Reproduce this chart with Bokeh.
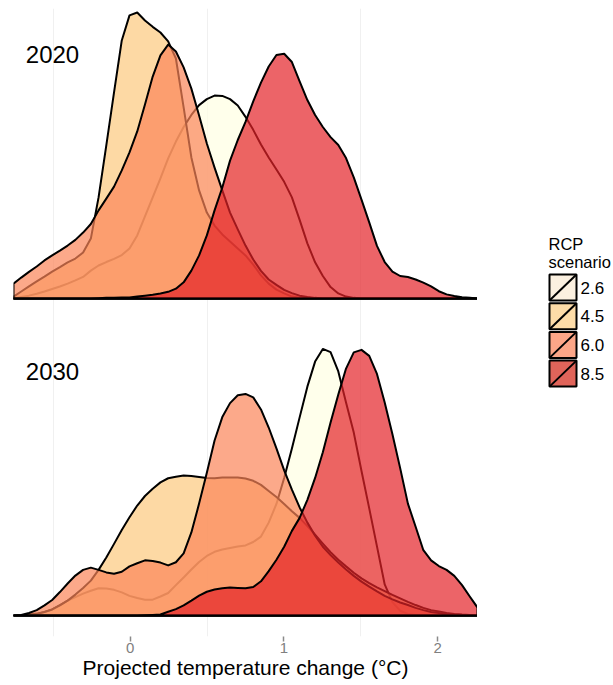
import numpy as np
from bokeh.plotting import figure
from bokeh.layouts import row
from bokeh.models import Range1d, FixedTicker
from bokeh.embed import file_html
from bokeh.resources import INLINE
from bokeh.core.properties import value

# ---------------- data ----------------
scenarios = ["2.6", "4.5", "6.0", "8.5"]
years = ["2020", "2030"]
tick_values = [0, 1, 2]
minor_values = [-0.5, 0.5, 1.5]

# evaluation grid of temperature change (°C)
t_min, t_max, n_pts = -0.76, 2.26, 61
temp = np.linspace(t_min, t_max, n_pts)

# ridge heights (percent of the spacing between the two ridges)
d2020_rcp26 = [0.0, 0.5, 0.9, 1.5, 2.2, 3.0, 3.8, 4.7, 5.7, 6.8,
               8.8, 10.4, 11.5, 12.5, 13.7, 15.8, 19.9, 25.9, 31.9, 37.9,
               44.2, 49.5, 54.1, 57.9, 61.0, 62.9, 64.0, 63.9, 62.9, 60.9,
               57.3, 53.2, 48.6, 44.5, 40.7, 36.8, 31.9, 24.8, 17.4, 11.4,
               7.1, 3.6, 1.6, 0.6, 0.2, 0, 0, 0, 0, 0,
               0, 0, 0, 0, 0, 0, 0, 0, 0, 0, 0]
d2020_rcp45 = [0.6, 2.2, 3.8, 5.4, 6.9, 8.5, 9.9, 11.4, 12.6, 14.5,
               18.9, 31.9, 48.3, 65.0, 81.4, 89.3, 90.2, 87.7, 85.7, 83.9,
               81.1, 75.7, 60.3, 44.5, 34.1, 27.1, 23.0, 20.2, 18.0, 15.8,
               13.6, 10.7, 7.3, 4.7, 2.8, 1.6, 0.6, 0.3, 0.2, 0.1,
               0, 0, 0, 0, 0, 0, 0, 0, 0, 0,
               0, 0, 0, 0, 0, 0, 0, 0, 0, 0, 0]
d2020_rcp60 = [4.7, 6.6, 8.4, 10.1, 12.0, 13.6, 15.1, 16.7, 18.5, 20.8,
               23.5, 27.8, 31.5, 35.3, 40.4, 46.1, 52.7, 61.2, 70.0, 76.7,
               80.1, 77.9, 72.9, 66.2, 57.7, 48.9, 41.3, 34.1, 27.1, 21.8,
               16.7, 12.3, 8.7, 6.0, 4.3, 2.7, 1.7, 0.9, 0.5, 0.2,
               0, 0, 0, 0, 0, 0, 0, 0, 0, 0,
               0, 0, 0, 0, 0, 0, 0, 0, 0, 0, 0]
d2020_rcp85 = [0, 0, 0, 0, 0, 0, 0, 0, 0, 0,
               0, 0.1, 0.2, 0.2, 0.3, 0.3, 0.6, 0.9, 1.2, 1.6,
               2.1, 3.1, 5.1, 8.8, 13.6, 19.9, 27.8, 35.0, 43.5, 50.0,
               55.7, 62.2, 68.1, 73.2, 76.8, 77.2, 74.6, 68.5, 62.6, 57.9,
               54.1, 50.9, 48.4, 44.3, 38.2, 31.2, 24.0, 16.6, 11.5, 8.5,
               7.1, 6.8, 6.0, 5.0, 3.8, 2.3, 1.3, 0.8, 0.4, 0.2, 0.0]

d2030_rcp26 = [0.0, 0.1, 0.3, 0.6, 1.1, 1.9, 3.3, 4.7, 5.8, 6.9,
               7.8, 8.6, 8.5, 8.1, 7.3, 6.2, 5.5, 5.0, 5.0, 6.0,
               7.1, 9.6, 12.0, 14.5, 16.9, 18.8, 20.1, 20.8, 21.3, 21.8,
               22.1, 23.2, 24.9, 29.3, 35.2, 43.4, 52.7, 62.5, 72.2, 80.1,
               84.1, 83.1, 77.0, 67.2, 57.7, 45.6, 33.8, 21.8, 9.8, 4.2,
               1.5, 0.5, 0.2, 0.1, 0, 0, 0, 0, 0, 0, 0]
d2030_rcp45 = [0.0, 0.1, 0.3, 0.5, 1.1, 1.9, 3.2, 4.7, 6.6, 8.7,
               11.0, 14.4, 18.3, 22.6, 27.0, 31.0, 34.7, 37.7, 40.0, 42.0,
               43.3, 43.8, 44.2, 44.0, 43.7, 43.4, 43.3, 43.5, 43.5, 43.5,
               43.2, 42.5, 41.2, 39.3, 37.4, 35.2, 32.9, 30.8, 28.2, 25.5,
               22.7, 20.0, 17.6, 15.5, 13.5, 11.7, 10.2, 8.9, 7.7, 6.5,
               5.4, 4.3, 3.3, 2.4, 1.7, 1.3, 0.8, 0.5, 0.3, 0.2, 0.0]
d2030_rcp60 = [0.0, 0.2, 0.8, 1.7, 3.2, 4.9, 7.4, 10.1, 12.6, 14.4,
               15.1, 14.4, 13.6, 13.2, 13.8, 15.5, 16.5, 17.4, 17.2, 16.7,
               15.8, 16.8, 19.6, 26.2, 35.3, 45.0, 55.2, 62.6, 67.0, 69.5,
               69.9, 68.8, 65.0, 59.3, 52.7, 45.8, 39.7, 34.1, 29.3, 25.2,
               21.7, 19.1, 16.7, 14.5, 12.5, 10.7, 9.1, 7.6, 6.2, 5.1,
               4.1, 3.3, 2.4, 1.7, 1.1, 0.8, 0.5, 0.3, 0.2, 0.1, 0.0]
d2030_rcp85 = [0, 0, 0, 0, 0, 0, 0, 0, 0, 0,
               0, 0, 0, 0, 0, 0, 0, 0.1, 0.2, 0.3,
               1.2, 2.0, 3.2, 4.7, 6.3, 7.5, 8.2, 8.6, 8.8, 8.7,
               8.6, 9.0, 10.8, 14.0, 17.6, 21.7, 26.7, 30.8, 36.5, 43.4,
               51.5, 60.9, 69.7, 77.9, 83.0, 83.8, 81.9, 76.2, 67.2, 57.2,
               46.5, 35.3, 28.0, 20.6, 17.4, 15.6, 14.4, 12.5, 9.6, 6.0, 2.5]

ridges = {
    "2020": [d2020_rcp26, d2020_rcp45, d2020_rcp60, d2020_rcp85],
    "2030": [d2030_rcp26, d2030_rcp45, d2030_rcp60, d2030_rcp85],
}
baseline = {"2020": 1.0, "2030": 0.0}

# ---------------- style ----------------
FONT = "Liberation Sans"
fill_colors = ["#FFFFE2", "#FCC97E", "#FB8458", "#E42228"]
legend_colors = ["#FBF0E0", "#FDDCA8", "#FCA688", "#E0645A"]
FILL_ALPHA = 0.7
H = 685
FRAME_TOP, FRAME_BOTTOM = 8, 636

p = figure(width=477, height=H,
           x_range=Range1d(t_min, t_max), y_range=Range1d(-0.0662, 1.9148),
           min_border_left=13, min_border_right=0, min_border_top=FRAME_TOP,
           min_border_bottom=H - FRAME_BOTTOM, y_axis_location=None,
           toolbar_location=None, output_backend="svg")
p.outline_line_color = None
p.background_fill_color = "white"
p.border_fill_color = "white"

p.xaxis.ticker = FixedTicker(ticks=tick_values)
p.xgrid.ticker = FixedTicker(ticks=tick_values, minor_ticks=minor_values)
p.xgrid.grid_line_color = None
p.xgrid.minor_grid_line_color = "#F0F0F0"
p.ygrid.grid_line_color = None
p.xaxis.axis_line_color = None
p.xaxis.minor_tick_line_color = None
p.xaxis.major_tick_in = 0
p.xaxis.major_tick_out = 5
p.xaxis.major_tick_line_color = "#8A8A8A"
p.xaxis.major_tick_line_width = 1.5
p.xaxis.major_label_standoff = 1
p.xaxis.major_label_text_font = FONT
p.xaxis.major_label_text_font_size = "15px"
p.xaxis.major_label_text_color = "#808080"
p.xaxis.axis_label = "Projected temperature change (°C)"
p.xaxis.axis_label_text_font = FONT
p.xaxis.axis_label_text_font_size = "21px"
p.xaxis.axis_label_text_font_style = "normal"
p.xaxis.axis_label_text_color = "black"
p.xaxis.axis_label_standoff = 0

for yr in years:
    b = baseline[yr]
    for i, sc in enumerate(scenarios):
        h = np.array(ridges[yr][i]) / 100.0
        xs = np.concatenate([temp, temp[::-1]])
        ys = np.concatenate([b + h, np.full(n_pts, b)])
        p.patch(xs, ys, fill_color=fill_colors[i], fill_alpha=FILL_ALPHA,
                line_color="black", line_width=2, line_join="round")

LABEL_X = -0.68
LABEL_DY = 0.771
p.text(x=[LABEL_X] * 2, y=[baseline[y] + LABEL_DY for y in years], text=years,
       text_font=value(FONT), text_font_size="24px", text_color="black",
       text_align="left", text_baseline="alphabetic")

# ---------------- legend panel (frame aligned with the main frame) ----------------
LW = 136
lg = figure(width=LW, height=H, x_range=Range1d(0, LW),
            y_range=Range1d(FRAME_BOTTOM, FRAME_TOP),
            min_border_left=0, min_border_right=0, min_border_top=FRAME_TOP,
            min_border_bottom=H - FRAME_BOTTOM,
            x_axis_location=None, y_axis_location=None,
            toolbar_location=None, output_backend="svg")
lg.outline_line_color = None
lg.xgrid.grid_line_color = None
lg.ygrid.grid_line_color = None

KX, KW, KH = 85.5, 27, 26
K0, KSTEP = 287.0, 28.7
lg.text(x=[71, 71], y=[243, 261], text=["RCP", "scenario"],
        text_font=value(FONT), text_font_size="16.5px", text_color="black",
        text_align="left", text_baseline="alphabetic")
cys = [K0 + KSTEP * i for i in range(len(scenarios))]
lg.rect(x=[KX] * 4, y=cys, width=KW, height=KH, fill_color=legend_colors,
        line_color="black", line_width=2)
lg.segment(x0=[KX - KW / 2] * 4, y0=[c + KH / 2 for c in cys],
           x1=[KX + KW / 2] * 4, y1=[c - KH / 2 for c in cys],
           line_color="black", line_width=2)
lg.text(x=[103] * 4, y=cys, text=scenarios, text_font=value(FONT),
        text_font_size="17px", text_color="black", text_align="left",
        text_baseline="middle")

layout = row(p, lg)
open("out.html", "w").write(file_html(layout, INLINE))
